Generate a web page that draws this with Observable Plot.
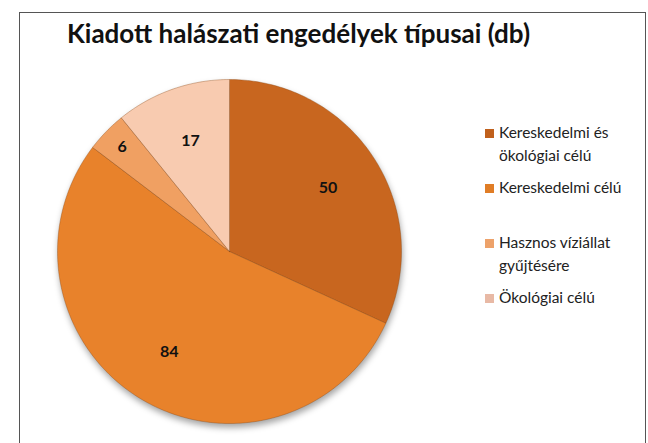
<!DOCTYPE html>
<html>
<head>
<meta charset="utf-8">
<script src="https://cdn.jsdelivr.net/npm/d3@7"></script>
<script src="https://cdn.jsdelivr.net/npm/@observablehq/plot@0.6"></script>
<style>
  html, body { margin: 0; padding: 0; background: #fff; }
  #wrap { position: relative; width: 648px; height: 443px; overflow: hidden; font-family: Lato, "Open Sans", sans-serif; }
  #frame { position: absolute; left: 19px; top: 12px; width: 627px; height: 460px; border: 1.5px solid #555; box-sizing: border-box; }
  #title { position: absolute; left: 0; width: 597px; top: 17px; text-align: center; font-weight: bold; font-size: 26px; color: #111; }
  #chart { position: absolute; left: 0; top: 0; }
  #chart svg g[aria-label="line"] { filter: drop-shadow(1px 4px 3px rgba(0,0,0,0.35)); }
  #legend { position: absolute; left: 485px; top: 121px; font-size: 15.5px; color: #222; }
  .item { position: absolute; left: 0; white-space: nowrap; line-height: 23px; }
  .sw { position: absolute; left: 0; top: 8px; width: 9px; height: 9px; }
  .txt { position: absolute; left: 14px; top: 0; }
</style>
</head>
<body>
<div id="wrap">
  <div id="frame"></div>
  <div id="chart"></div>
  <div id="title">Kiadott halászati engedélyek típusai (db)</div>
  <div id="legend"></div>
</div>
<script>
const categories = ["Kereskedelmi és ökológiai célú", "Kereskedelmi célú", "Hasznos víziállat gyűjtésére", "Ökológiai célú"];
const legendLines = [["Kereskedelmi és", "ökológiai célú"], ["Kereskedelmi célú"], ["Hasznos víziállat", "gyűjtésére"], ["Ökológiai célú"]];
const values = [50, 84, 6, 17];
const colors = ["#c8661f", "#e8822b", "#f0a062", "#f8cbb0"];
const legendColors = ["#c0601c", "#e07d26", "#eda26a", "#e8b9a5"];
const legendTops = [0, 55, 110, 165];

const arcs = d3.pie().sort(null).value(d => d)(values);
const total = d3.sum(values);
const pts = [];
arcs.forEach((a, i) => {
  pts.push({cat: categories[i], x: 0, y: 0});
  const n = Math.max(2, Math.ceil((a.endAngle - a.startAngle) / (Math.PI / 180)));
  for (let k = 0; k <= n; k++) {
    const t = a.startAngle + (a.endAngle - a.startAngle) * k / n;
    pts.push({cat: categories[i], x: Math.sin(t), y: Math.cos(t)});
  }
  pts.push({cat: categories[i], x: 0, y: 0});
});
const labels = arcs.map((a, i) => {
  const m = (a.startAngle + a.endAngle) / 2;
  const r = values[i] / total < 0.06 ? 0.87 : 0.68;
  return {x: r * Math.sin(m), y: r * Math.cos(m), text: String(values[i])};
});

const R = 172, CX = 229, CY = 251, W = 648, H = 443;
const chart = Plot.plot({
  width: W, height: H, margin: 0,
  style: {background: "transparent"},
  x: {domain: [-CX / R, (W - CX) / R], axis: null},
  y: {domain: [-(H - CY) / R, CY / R], axis: null},
  color: {domain: categories, range: colors},
  marks: [
    Plot.line(pts, {x: "x", y: "y", z: "cat", fill: "cat", stroke: "#8a4512", strokeOpacity: 0.45, strokeWidth: 0.8, curve: "linear-closed"}),
    Plot.text(labels, {x: "x", y: "y", text: "text", fontWeight: "bold", fontSize: 16, fill: "#111", fontFamily: "Lato, sans-serif"})
  ]
});
document.getElementById("chart").appendChild(chart);

const leg = document.getElementById("legend");
legendLines.forEach((lines, i) => {
  const it = document.createElement("div");
  it.className = "item";
  it.style.top = legendTops[i] + "px";
  const sw = document.createElement("div");
  sw.className = "sw";
  sw.style.background = legendColors[i];
  it.appendChild(sw);
  const tx = document.createElement("div");
  tx.className = "txt";
  tx.innerHTML = lines.join("<br>");
  it.appendChild(tx);
  leg.appendChild(it);
});
</script>
</body>
</html>
